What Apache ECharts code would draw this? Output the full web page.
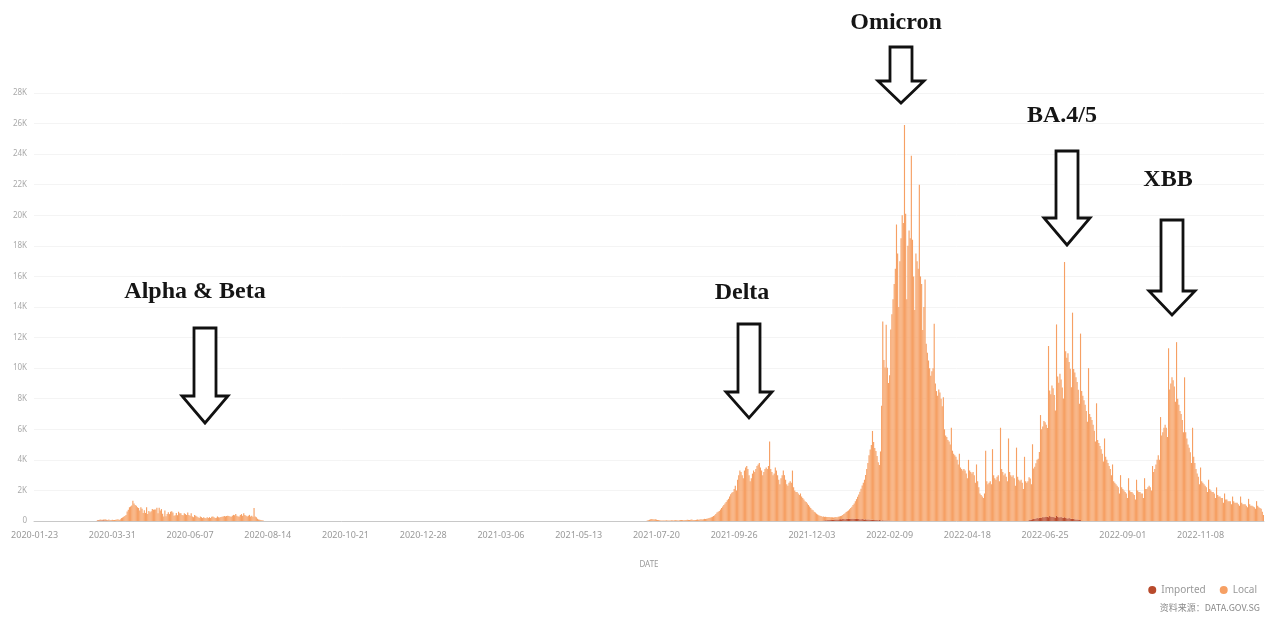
<!DOCTYPE html>
<html>
<head>
<meta charset="utf-8">
<title>Singapore daily COVID-19 cases</title>
<script src="https://cdn.jsdelivr.net/npm/echarts@6/dist/echarts.min.js"></script>
<style>
  html, body { margin: 0; padding: 0; background: #fff; }
  #chart { width: 1282px; height: 622px; }
</style>
</head>
<body>
<div id="chart"></div>
<script>
// axis range: daily categories from the first date, one label every 68 days
const firstDay = '2020-01-23'
const dayCount = 1076

// local cases, one value per day from the start date
const local2020Start = '2020-03-18'
const local2020 = [
  40, 30, 40, 50, 30, 50, 50, 70, 50, 50, 70, 40, 60, 70, 60, 70,
  80, 90, 120, 70, 120, 190, 230, 280, 330, 390, 620, 730, 900, 950, 1020,
  1320, 1150, 1050, 1000, 900, 850, 680, 900, 800, 530, 700, 530, 900, 460, 650,
  570, 630, 780, 740, 760, 750, 860, 500, 870, 680, 780, 470, 300, 680, 310,
  450, 570, 450, 610, 640, 550, 350, 380, 530, 380, 600, 500, 510, 400, 380,
  500, 450, 400, 550, 400, 350, 500, 300, 250, 400, 350, 300, 250, 200, 300,
  250, 200, 250, 200, 180, 250, 200, 250, 200, 280, 300, 250, 200, 220, 300,
  250, 230, 260, 280, 300, 320, 300, 330, 350, 320, 300, 280, 350, 400, 380,
  450, 350, 300, 300, 400, 450, 350, 500, 400, 350, 300, 350, 400, 300, 350,
  280, 850, 300, 250, 150, 100, 80, 60, 50, 40
]

const localDeltaStart = '2021-07-12'
const localDelta = [
  30, 50, 80, 110, 130, 120, 100, 110, 90, 70, 60, 50, 40,
  40, 30, 30, 40, 50, 40, 30, 40, 50, 40, 40, 50, 60, 50, 40, 50, 60, 70, 60, 50, 60, 70, 80, 70, 60, 80, 90,
  60, 70, 60, 80, 90, 80, 100, 110, 100, 120, 140, 130, 150, 170, 190,
  220, 250, 280, 320, 380, 450, 550, 600, 650, 750, 850, 950, 1050, 1150, 1250, 1350, 1450, 1600, 1750, 1850,
  1900, 2100, 2300, 2000, 2700, 3000, 3300, 3200, 3000, 2800, 3300, 3500, 3600, 3400, 3000,
  2600, 2800, 3100, 3300, 3200, 3400, 3600, 3700, 3800, 3500, 3300, 3000, 3200, 3400, 3500,
  3400, 3600, 5200, 3400, 3200, 3000, 3100, 3500, 3300, 3000, 2700, 2400, 2800, 3000, 3300,
  3000, 2700, 2400, 2300, 2500, 2600, 2500, 3300, 2200, 2000, 1900, 1900, 1800, 1700, 1800,
  1600, 1500, 1400, 1300, 1250, 1150, 1050, 950, 850, 750, 700, 600, 550, 480, 420,
  380, 350, 320, 280, 250, 230, 220, 210, 200, 190, 180, 170, 160, 150, 150,
  160, 150, 170, 180, 200, 230, 270, 320
]

const local2022Start = '2022-01-01'
const local2022 = [
  380, 450, 500, 560, 620, 700, 800, 900, 1000, 1150, 1300, 1450, 1600, 1800, 2000, 2200, 2400,
  2600, 2900, 3300, 3700, 4200, 4600, 4900, 5800, 5100, 4700, 4500, 4200, 3800, 3600, 4500,
  7500, 13000, 10500, 10000, 12800, 10000, 9000, 9500, 12500, 13500, 14500, 15500, 16500, 19400, 17500,
  14000, 17000, 18500, 20000, 19500,
  25900, 20100, 14500, 18000, 19000, 18500, 23900, 18400, 16000, 13800, 17500, 17000, 16500, 22000, 16000,
  15500, 12500, 14000, 15800, 11600, 11000, 10500, 10000, 9500, 9800, 10000, 12900, 9000, 8500, 8200,
  8600, 8400, 8000, 7500, 8100, 6000, 5600, 5500, 5300, 5200,
  5000, 6100, 4600, 4400, 4300, 4200, 4000, 3700, 4400, 3500, 3400, 3300, 3400, 3300, 3100,
  2800, 4000, 3300, 3200, 3100, 3200, 3000, 2500, 3700, 2600, 2200, 1800, 1700, 1600, 1500,
  1800, 4600, 2600, 2400, 2500, 2600, 2400, 4700, 3000, 2800, 2700, 2900, 3000, 2600, 6100,
  3400, 3200, 3000, 3100, 2900, 2600, 5400, 3200, 3000, 2900, 3000, 2800, 2300, 4800, 2900,
  2700, 2600, 2700, 2500, 2100, 4200, 2600, 2500, 2600, 2800, 2700, 2300, 4900, 3300, 3400,
  3600, 3800, 3900, 4300,
  6700, 5800, 5900, 6300, 6200, 6000, 5800, 11200, 8200, 8000, 8600, 8400, 8000, 7000, 12500,
  9200, 8800, 9400, 9000, 8500, 7800,
  16700, 10900, 10500, 10800, 10200, 9800, 8600, 13500, 9800, 9600, 9300, 9000, 8500, 7600, 12200,
  8500, 8200, 7900, 7600, 7200, 6500, 10000, 7000, 6800, 6600, 6300, 5900, 5200, 7700,
  5300, 5100, 4900, 4700, 4400, 3900, 5400, 4200, 4000, 3800, 3600, 3400, 3000, 3700,
  2600, 2500, 2400, 2300, 2200, 1800, 3000, 2200, 2100, 2000, 1900, 1800, 1500, 2800,
  2000, 1900, 1900, 1800, 1700, 1400, 2700, 2000, 1900, 1900, 1800, 1800, 1500, 2800,
  2100, 2100, 2200, 2300, 2200, 2000, 3600,
  3200, 3400, 3700, 4000, 4300, 4000, 6800, 5600, 5800, 6100, 6300, 6100, 5500, 11300,
  8600, 9000, 9400, 9200, 8800, 7800, 11700, 8000, 7600, 7200, 7000, 6600, 5800, 9400,
  5800, 5400, 5000, 4800, 4500, 3800, 6100, 4200, 3800, 3400, 3100, 2900, 2400, 3500,
  2600, 2500, 2400, 2300, 2200, 1900, 2700, 2100, 2000, 1900, 1900, 1800, 1500, 2200,
  1700, 1600, 1600, 1500, 1500, 1200, 1800, 1400, 1400, 1300, 1300, 1300, 1100, 1600,
  1300, 1200, 1200, 1200, 1100, 1000, 1600, 1200, 1100, 1100, 1100, 1000, 900, 1450,
  1100, 1000, 1000, 950, 900, 800, 1300, 1000, 900, 850, 800, 600, 400
]

// imported cases (only the visible stretches)
const imported2020Start = '2020-03-18'
const imported2020 = [20, 30, 40, 40, 30, 50, 40, 30, 30, 20, 20, 10, 10, 5, 5]

const importedOmicronStart = '2021-12-13'
const importedOmicron = [
  40, 40, 50, 50, 60, 70, 70, 70, 80, 80, 90, 100, 90, 100, 110, 120, 110, 130, 130, 120,
  140, 140, 130, 150, 150, 140, 140, 150, 140, 130, 130, 140, 120, 110, 130, 110, 100, 110, 100, 90,
  100, 80, 80, 90, 70, 70, 80, 60, 50, 60, 50, 40, 50, 40, 40, 40, 30, 30, 40, 20, 20
]

const importedBA45Start = '2022-06-11'
const importedBA45 = [
  60, 80, 100, 120, 130, 150, 170, 200, 180, 210, 230, 200, 280, 250, 260, 300, 280, 250, 330, 300,
  260, 280, 250, 230, 360, 260, 250, 240, 260, 230, 210, 250, 200, 180, 170, 200, 160, 150, 130, 140,
  120, 100, 100, 90, 70, 60
]

// build the category list and lay the segments onto it
function buildDays (start, n) {
  const parts = start.split('-').map(Number)
  const t0 = Date.UTC(parts[0], parts[1] - 1, parts[2])
  const out = []
  for (let i = 0; i < n; i++) {
    out.push(new Date(t0 + i * 86400000).toISOString().slice(0, 10))
  }
  return out
}
const days = buildDays(firstDay, dayCount)

function placeSegments (segments) {
  const series = new Array(days.length).fill(0)
  segments.forEach(seg => {
    const at = days.indexOf(seg[0])
    seg[1].forEach((v, i) => {
      if (at + i < series.length) series[at + i] = v
    })
  })
  return series
}
const localData = placeSegments([
  [local2020Start, local2020], [localDeltaStart, localDelta], [local2022Start, local2022]
])
const importedData = placeSegments([
  [imported2020Start, imported2020], [importedOmicronStart, importedOmicron], [importedBA45Start, importedBA45]
])

// variant callouts: label text plus arrow geometry in pixels
const callouts = [
  { text: 'Alpha & Beta', tx: 195, ty: 292, cx: 205, y0: 328, y1: 396, y2: 423 },
  { text: 'Delta', tx: 742, ty: 293, cx: 749, y0: 324, y1: 392, y2: 418 },
  { text: 'Omicron', tx: 896, ty: 23, cx: 901, y0: 47, y1: 81, y2: 103 },
  { text: 'BA.4/5', tx: 1062, ty: 116, cx: 1067, y0: 151, y1: 218, y2: 245 },
  { text: 'XBB', tx: 1168, ty: 180, cx: 1172, y0: 220, y1: 291, y2: 315 }
]

const graphics = []
callouts.forEach(c => {
  const sw = 11
  const hw = 23
  graphics.push({
    type: 'polygon',
    shape: {
      points: [
        [c.cx - sw, c.y0], [c.cx + sw, c.y0], [c.cx + sw, c.y1], [c.cx + hw, c.y1],
        [c.cx, c.y2], [c.cx - hw, c.y1], [c.cx - sw, c.y1]
      ]
    },
    style: { fill: '#fff', stroke: '#111', lineWidth: 2.8, lineJoin: 'miter' },
    z: 100
  })
  graphics.push({
    type: 'text',
    x: c.tx,
    y: c.ty,
    style: {
      text: c.text,
      fill: '#151515',
      fontFamily: 'Liberation Serif',
      fontWeight: 'bold',
      fontSize: 24,
      textAlign: 'center',
      textVerticalAlign: 'middle'
    },
    z: 100
  })
})
graphics.push({
  type: 'text',
  right: 22,
  top: 603,
  style: {
    text: '资料来源：DATA.GOV.SG',
    fill: '#8a8a8a',
    fontFamily: 'Noto Sans CJK SC',
    fontSize: 9
  }
})

const myChart = echarts.init(document.getElementById('chart'))
myChart.setOption({
  animation: false,
  backgroundColor: '#fff',
  grid: { left: 34, right: 18, top: 93, bottom: 101 },
  legend: {
    data: ['Imported', 'Local'],
    right: 20,
    top: 580,
    icon: 'circle',
    itemWidth: 8,
    itemHeight: 8,
    itemGap: 14,
    textStyle: { color: '#999', fontSize: 10, fontFamily: 'Noto Sans' }
  },
  xAxis: {
    type: 'category',
    data: days,
    name: 'DATE',
    nameLocation: 'middle',
    nameGap: 40,
    nameTextStyle: { color: '#999', fontSize: 8, fontFamily: 'Noto Sans' },
    axisLine: { lineStyle: { color: '#c8c8c8' } },
    axisTick: { interval: 67, alignWithLabel: true, lineStyle: { color: '#c8c8c8' } },
    axisLabel: { interval: 67, color: '#999', fontSize: 9, margin: 10, fontFamily: 'Noto Sans' }
  },
  yAxis: {
    type: 'value',
    min: 0,
    max: 28000,
    interval: 2000,
    axisLabel: {
      color: '#aaa',
      fontSize: 8,
      margin: 7,
      fontFamily: 'Noto Sans',
      formatter: v => v === 0 ? '0' : v / 1000 + 'K'
    },
    splitLine: { lineStyle: { color: '#f4f4f4' } }
  },
  series: [
    {
      name: 'Imported',
      type: 'bar',
      stack: 'cases',
      data: importedData,
      barCategoryGap: '0%',
      large: false,
      itemStyle: { color: '#b84a2c' }
    },
    {
      name: 'Local',
      type: 'bar',
      stack: 'cases',
      data: localData,
      barCategoryGap: '0%',
      large: false,
      itemStyle: { color: '#f6a064' }
    }
  ],
  graphic: graphics
})
</script>
</body>
</html>
